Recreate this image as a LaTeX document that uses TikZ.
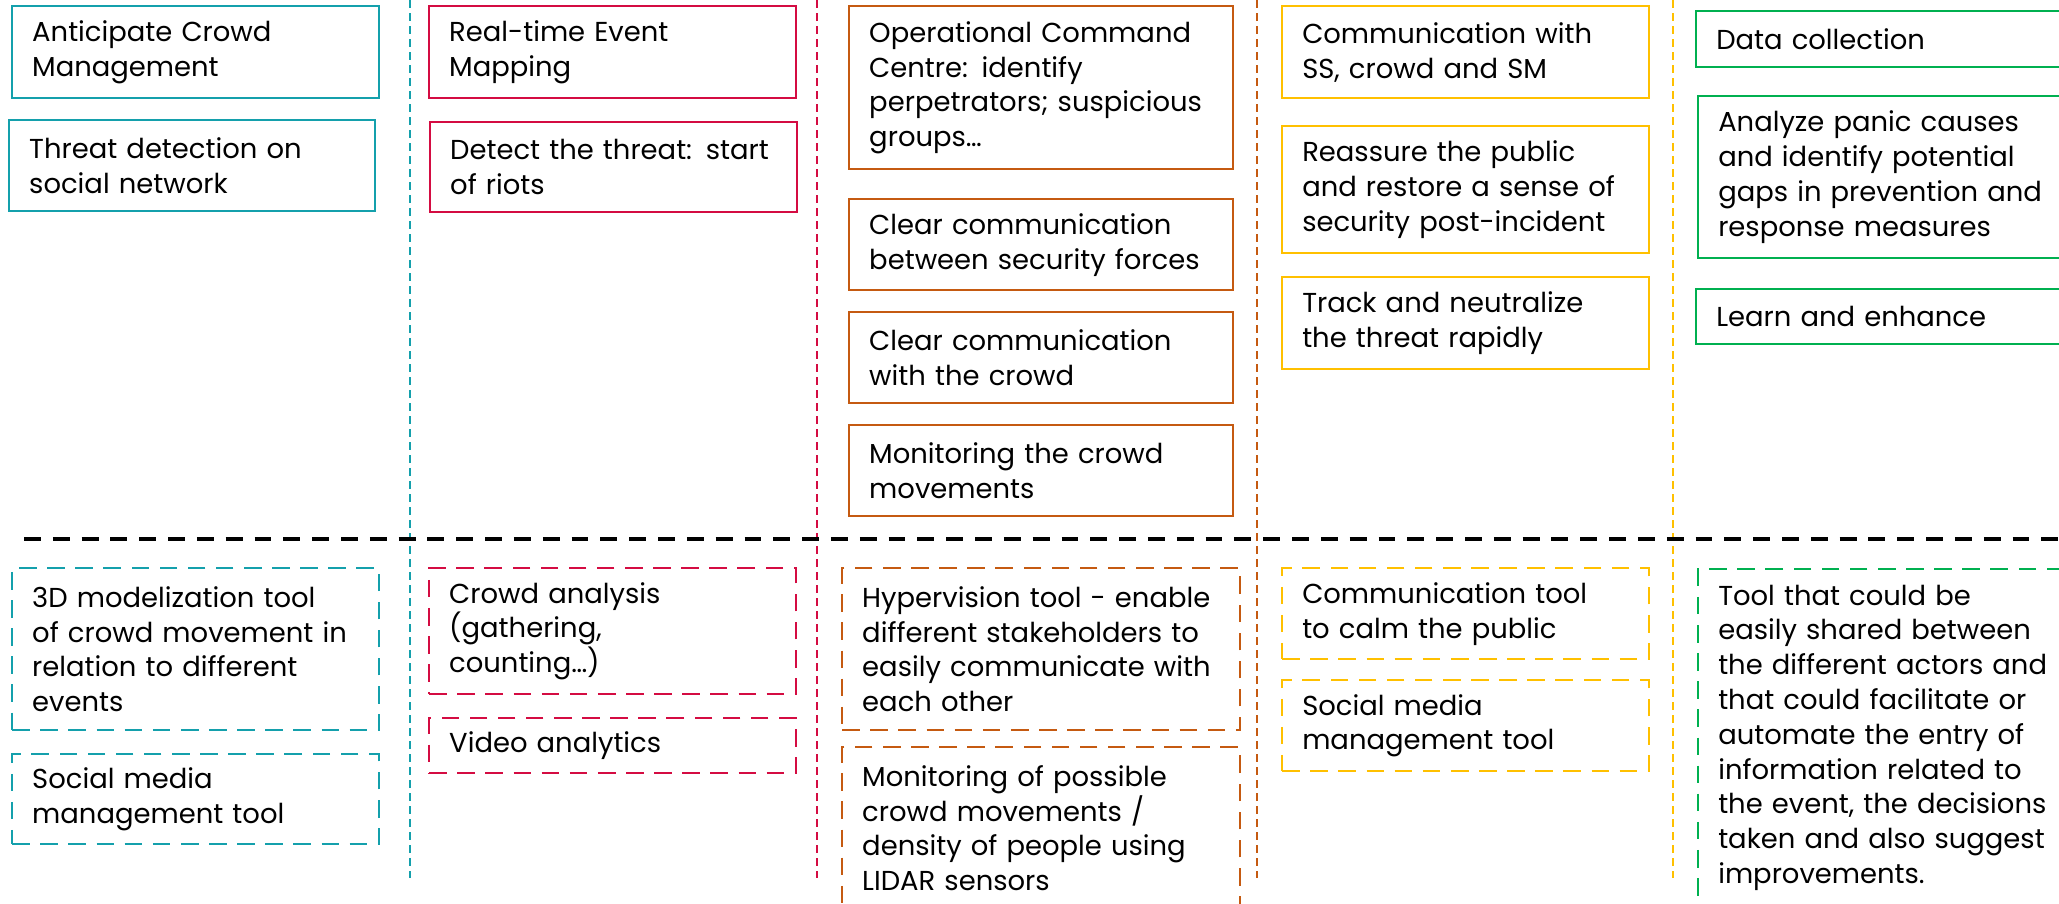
\documentclass[tikz,border=0pt]{standalone}
\usepackage{fontspec}
\setmainfont{Poppins}
\usetikzlibrary{positioning}
\definecolor{TealColor}{RGB}{20,160,172}
\definecolor{RedColor}{RGB}{212,12,66}
\definecolor{OrangeColor}{RGB}{197,90,17}
\definecolor{YellowColor}{RGB}{255,192,0}
\definecolor{GreenColor}{RGB}{0,176,80}
\tikzstyle{stagebox} = [rectangle, draw, line width=0.7pt, anchor=north west, align=left, inner xsep=0.2cm, inner ysep=0pt, font=\fontsize{7.8}{9.9}\selectfont]
\tikzstyle{toolbox} = [stagebox, dash pattern=on 5pt off 3pt]
\tikzstyle{divider} = [line width=0.55pt, dash pattern=on 2.2pt off 1.5pt]

\begin{document}
\begin{tikzpicture}
    \clip (0,0) rectangle (20.59,-9.03);
    \useasboundingbox (0,0) rectangle (20.59,-9.03);

    % Column separators
    \draw[divider, TealColor] (4.10,0) -- (4.10,-8.78);
    \draw[divider, RedColor] (8.17,0) -- (8.17,-8.78);
    \draw[divider, OrangeColor] (12.57,0) -- (12.57,-8.78);
    \draw[divider, YellowColor] (16.73,0) -- (16.73,-8.78);
    \draw[line width=1.15pt, dash pattern=on 4.8pt off 3.4pt] (0.24,-5.39) -- (20.59,-5.39);

    % Anticipation
    \node[stagebox, draw=TealColor, text width=3.27cm, minimum height=0.92cm] (acm) at (0.11,-0.05) {Anticipate Crowd\\Management};
    \node[stagebox, draw=TealColor, text width=3.26cm, minimum height=0.91cm] (tdsn) at (0.08,-1.19) {Threat detection on\\social network};
    \node[toolbox, draw=TealColor, text width=3.27cm, minimum height=1.62cm] (model) at (0.11,-5.67) {3D modelization tool\\of crowd movement in\\relation to different\\events};
    \node[toolbox, draw=TealColor, text width=3.27cm, minimum height=0.90cm] (smtealt) at (0.11,-7.53) {Social media\\management tool};

    % Detection
    \node[stagebox, draw=RedColor, text width=3.27cm, minimum height=0.92cm] (rtem) at (4.28,-0.05) {Real-time Event\\Mapping};
    \node[stagebox, draw=RedColor, text width=3.27cm, minimum height=0.90cm] (dtt) at (4.29,-1.21) {Detect the threat: start\\of riots};
    \node[toolbox, draw=RedColor, text width=3.27cm, minimum height=1.26cm] (crowdan) at (4.28,-5.67) {Crowd analysis\\(gathering,\\counting…)};
    \node[toolbox, draw=RedColor, text width=3.27cm, minimum height=0.55cm] (video) at (4.28,-7.17) {Video analytics};

    % Response
    \node[stagebox, draw=OrangeColor, text width=3.44cm, minimum height=1.63cm] (occ) at (8.48,-0.05) {Operational Command\\Centre: identify\\perpetrators; suspicious\\groups…};
    \node[stagebox, draw=OrangeColor, text width=3.44cm, minimum height=0.91cm] (ccsf) at (8.48,-1.98) {Clear communication\\between security forces};
    \node[stagebox, draw=OrangeColor, text width=3.44cm, minimum height=0.91cm] (cccr) at (8.48,-3.11) {Clear communication\\with the crowd};
    \node[stagebox, draw=OrangeColor, text width=3.44cm, minimum height=0.91cm] (mcm) at (8.48,-4.24) {Monitoring the crowd\\movements};
    \node[toolbox, draw=OrangeColor, text width=3.58cm, minimum height=1.62cm] (hyper) at (8.41,-5.67) {Hypervision tool - enable\\different stakeholders to\\easily communicate with\\each other};
    \node[toolbox, draw=OrangeColor, text width=3.58cm, minimum height=1.62cm] (lidar) at (8.41,-7.46) {Monitoring of possible\\crowd movements /\\density of people using\\LIDAR sensors};

    % Recovery
    \node[stagebox, draw=YellowColor, text width=3.27cm, minimum height=0.92cm] (comss) at (12.81,-0.05) {Communication with\\SS, crowd and SM};
    \node[stagebox, draw=YellowColor, text width=3.27cm, minimum height=1.27cm] (reass) at (12.81,-1.25) {Reassure the public\\and restore a sense of\\security post-incident};
    \node[stagebox, draw=YellowColor, text width=3.27cm, minimum height=0.92cm] (track) at (12.81,-2.76) {Track and neutralize\\the threat rapidly};
    \node[toolbox, draw=YellowColor, text width=3.27cm, minimum height=0.91cm] (calm) at (12.81,-5.67) {Communication tool\\to calm the public};
    \node[toolbox, draw=YellowColor, text width=3.27cm, minimum height=0.91cm] (smyel) at (12.81,-6.79) {Social media\\management tool};

    % Learning
    \node[stagebox, draw=GreenColor, text width=3.40cm, minimum height=0.56cm] (datac) at (16.95,-0.10) {Data collection};
    \node[stagebox, draw=GreenColor, text width=3.40cm, minimum height=1.62cm] (panic) at (16.97,-0.95) {Analyze panic causes\\and identify potential\\gaps in prevention and\\response measures};
    \node[stagebox, draw=GreenColor, text width=3.40cm, minimum height=0.55cm] (learn) at (16.95,-2.88) {Learn and enhance};
    \node[toolbox, draw=GreenColor, text width=3.40cm, minimum height=3.37cm] (shared) at (16.97,-5.68) {Tool that could be\\easily shared between\\the different actors and\\that could facilitate or\\automate the entry of\\information related to\\the event, the decisions\\taken and also suggest\\improvements.};
\end{tikzpicture}
\end{document}
